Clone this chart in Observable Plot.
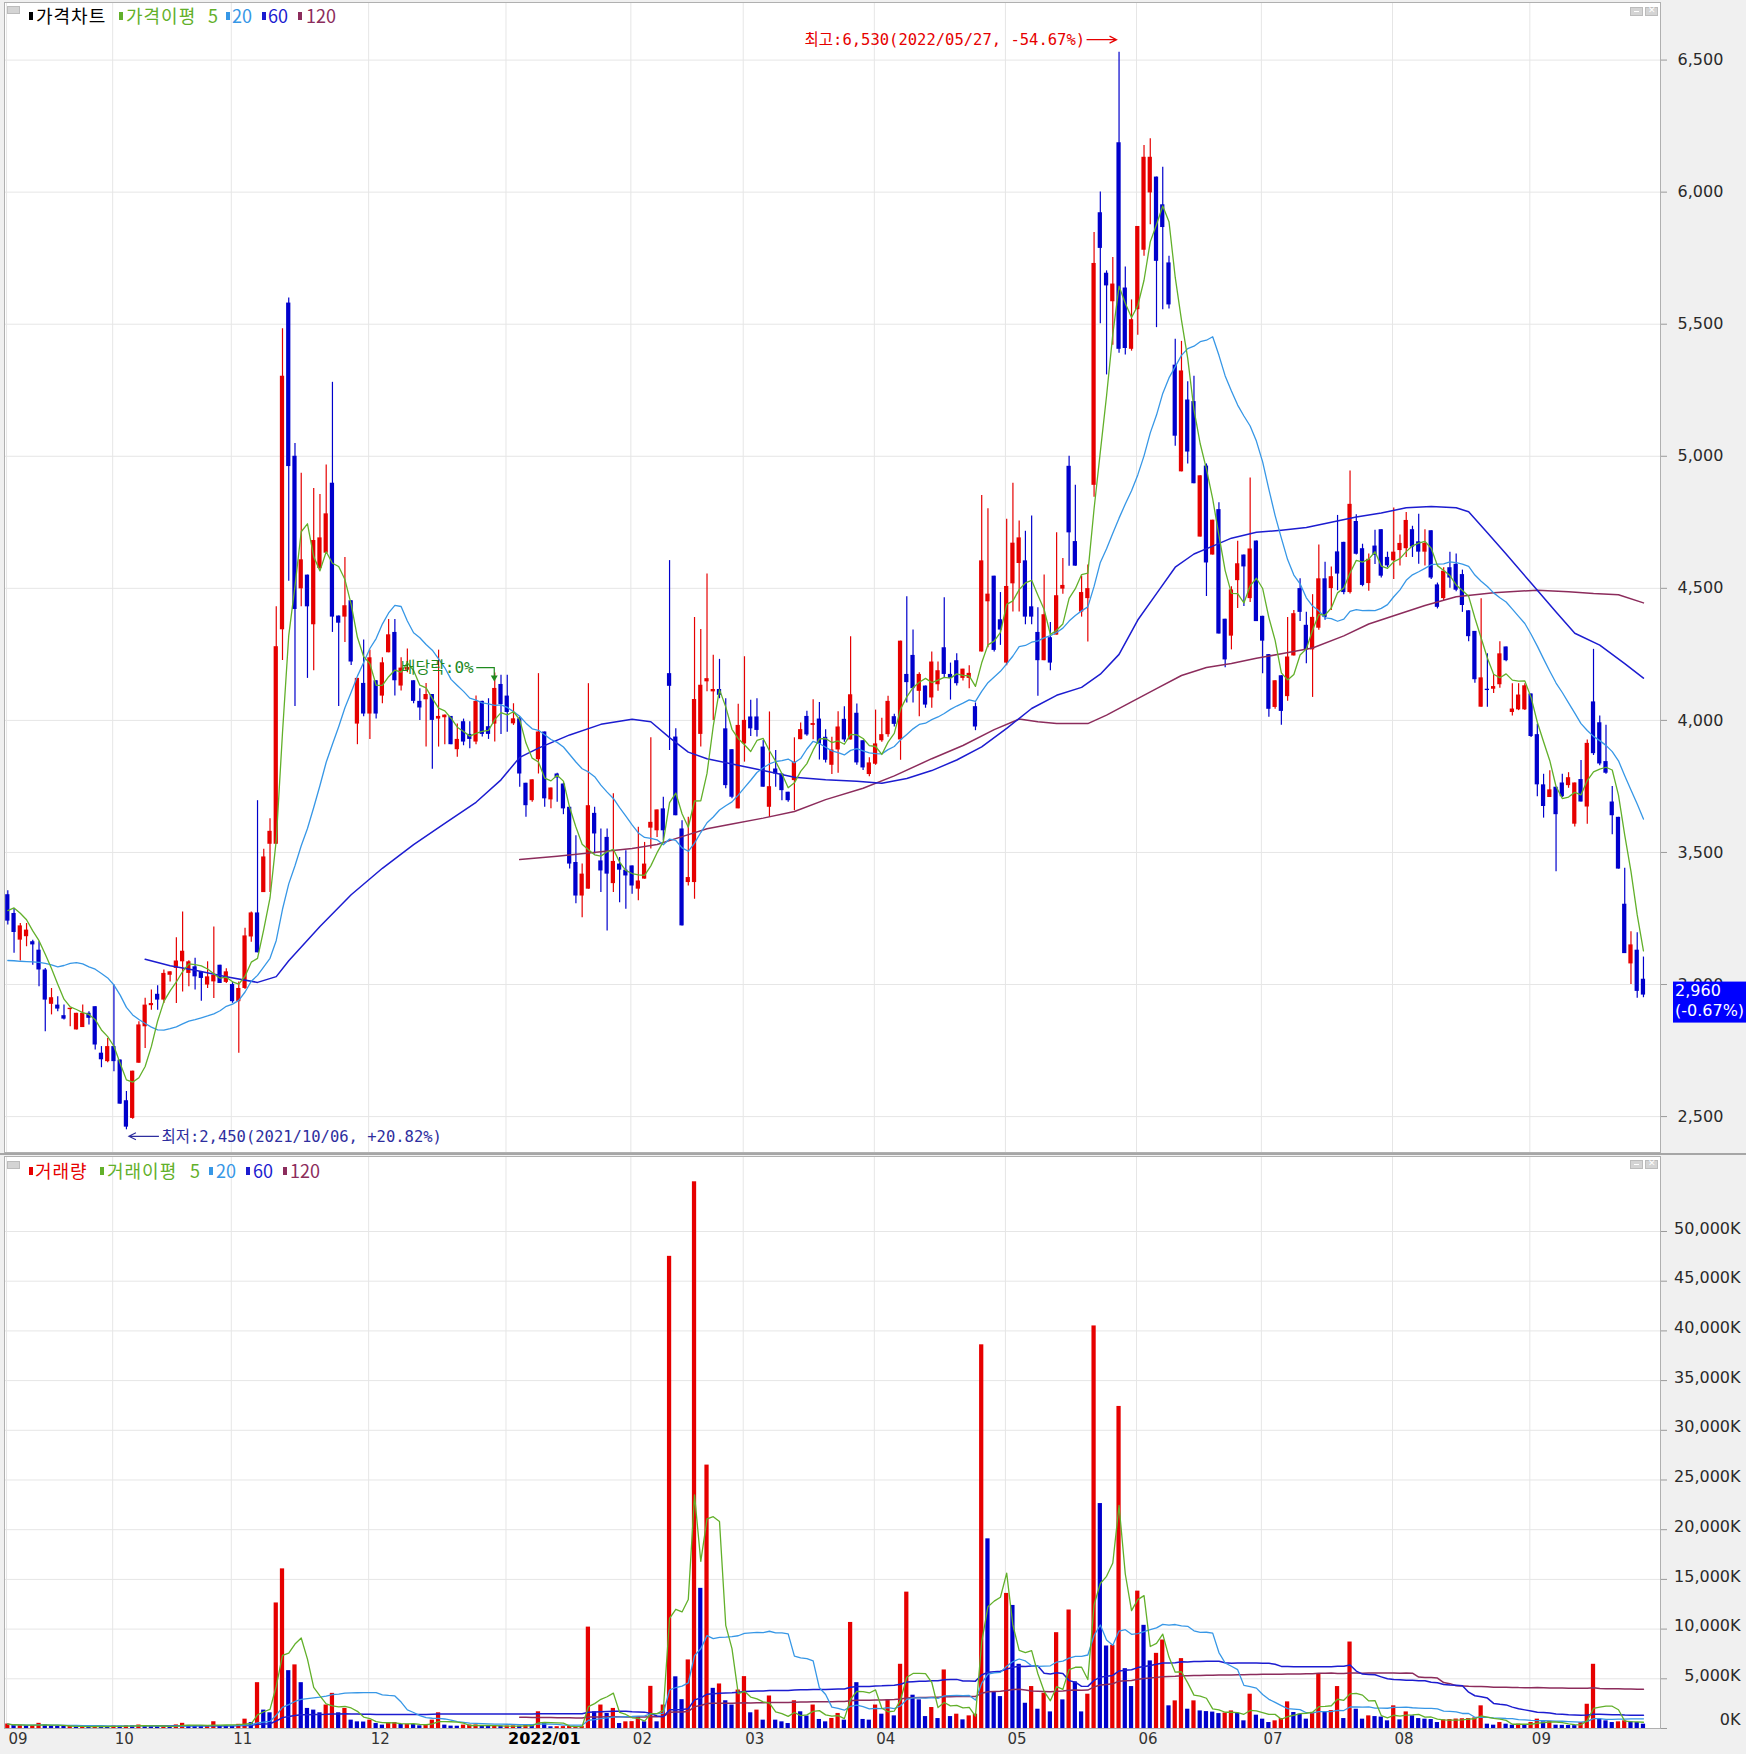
<!DOCTYPE html>
<html lang="ko"><head><meta charset="utf-8"><title>가격차트</title>
<script src="https://cdn.jsdelivr.net/npm/d3@7"></script>
<script src="https://cdn.jsdelivr.net/npm/@observablehq/plot@0.6"></script>
<style>
html,body{margin:0;padding:0;background:#f0f0f0}
#wrap{position:relative;width:1746px;height:1754px;overflow:hidden;background:#f0f0f0}
#wrap svg{position:absolute;left:0}
.lg{position:absolute;font-family:"Noto Sans CJK KR","Noto Sans",sans-serif;font-size:18px;line-height:18px;white-space:nowrap}
.lg.ko{letter-spacing:1px}
.mk{position:absolute;width:4px;height:8px}
.ic{position:absolute;width:13px;height:9px;background:#d4d4d4;border:1px solid #bcbcbc;box-sizing:border-box}
g[aria-label^="y-axis"] line,g[aria-label^="y-axis"] path{stroke:#9a9a9a}
</style></head>
<body><div id="wrap"></div>
<script>
// ---------------- data ----------------
const opens = [
3340,3269,3168,3181,3162,3130,3055,2925,2922,2882,
2905,2828,2837,2891,2916,2740,2708,2765,2714,2560,
2493,2702,2840,2920,2963,2941,3035,3061,3086,3042,
3067,3048,2998,3010,3073,3008,3000,2935,2985,3180,
3271,3348,3531,3531,4343,5580,5000,4498,4550,4362,
4575,4633,4898,4395,4391,4453,3986,4140,4024,4150,
4092,4256,4333,4130,4190,4150,4072,4078,4098,4005,
4010,4015,3889,3995,3947,3918,4072,3976,3986,4136,
4092,3987,4006,3762,3696,3851,3956,3699,3797,3759,
3671,3462,3335,3361,3648,3468,3557,3382,3456,3433,
3449,3361,3399,3592,3582,3665,4177,3937,3589,3386,
3386,3947,4146,4108,4117,3968,3889,3665,3911,4013,
4013,3899,3671,3816,3797,3728,3772,3927,4015,3981,
4005,3936,3830,3888,4004,3926,4027,3923,3795,3834,
3923,3946,4014,3926,4174,4246,4110,4130,4085,4135,
4275,4174,4226,4159,4159,4052,4259,4449,4546,4381,
4217,4517,4594,4604,4430,4333,4226,4313,4323,4497,
4962,4677,4410,4461,4890,5922,5693,5585,6187,5637,
5405,5555,5780,5997,6057,5952,5732,5345,4941,5213,
5207,4694,4963,4626,4798,4383,4319,4529,4626,4461,
4679,4394,4249,4049,4169,4090,4244,4499,4360,4267,
4349,4536,4499,4638,4674,4484,4753,4650,4518,4660,
4722,4617,4604,4643,4650,4722,4676,4637,4718,4513,
4461,4578,4591,4552,4415,4337,4050,4118,4118,4135,
4278,4030,4040,4040,4100,3946,3756,3708,3747,3763,
3753,3607,3776,3672,4070,3991,3844,3691,3633,3304,
3078,3130,3020];
const highs = [
3355,3288,3231,3231,3168,3162,3061,2985,2954,2922,
2910,2891,2922,2897,2916,2765,2796,2998,2714,2595,
2672,2859,2948,2979,2995,3055,3048,3177,3275,3090,
3099,3048,3086,3218,3073,3060,3010,3010,3213,3275,
3696,3512,3628,4430,5483,5599,5048,4936,4550,4878,
4855,4967,5280,4395,4617,4453,4159,4304,4266,4150,
4237,4382,4382,4237,4270,4150,4120,4140,4098,4266,
4020,4015,3986,4005,3995,4092,4072,4082,4179,4171,
4171,4063,4013,3762,3775,4177,3956,3744,3800,3762,
3671,3563,3456,4139,3671,3589,3589,3722,3481,3506,
3449,3595,3538,3934,3661,3709,4605,3968,3620,3633,
4390,4344,4554,4247,4231,4082,3889,4061,4241,4076,
4082,3924,4032,3886,3797,3728,3934,3990,4035,4078,
4068,3965,3936,4033,4052,4317,4062,3923,3859,4039,
4008,4091,4023,4300,4468,4342,4180,4130,4259,4221,
4464,4217,4252,4194,4207,4066,4851,4801,4546,4484,
4762,4898,4755,4716,4774,4426,4550,4371,4710,4613,
5000,4890,4546,4588,5847,6001,5702,5753,6530,5717,
5592,5870,6177,6202,6057,6094,5757,5443,5435,5282,
5303,4926,4971,4758,4824,4383,4506,4678,4626,4918,
4679,4394,4249,4150,4169,4390,4416,4536,4409,4476,
4664,4599,4581,4776,4674,4944,4779,4667,4630,4720,
4722,4637,4804,4702,4787,4735,4780,4722,4718,4520,
4578,4637,4630,4569,4415,4337,4461,4252,4174,4298,
4278,4139,4139,4139,4100,3985,3796,3809,3747,3796,
3802,3763,3848,3926,4269,4017,3982,3750,3633,3440,
3200,3196,3104];
const lows = [
3225,3118,3089,3143,3073,2992,2821,2885,2897,2866,
2840,2828,2837,2847,2752,2685,2704,2670,2547,2450,
2490,2702,2758,2903,2903,2928,3010,2928,2972,2992,
2979,2937,2985,2947,3004,3004,2929,2740,2981,3160,
3120,3348,3348,3531,4227,4527,4053,4430,4159,4188,
4570,4633,4333,4053,4295,4208,3908,4014,3928,4005,
4063,4256,4092,4111,4180,4063,4000,3899,3815,3899,
3908,3908,3860,3904,3893,3908,3937,3928,3918,3947,
3955,3981,3747,3633,3690,3797,3671,3665,3690,3643,
3437,3306,3253,3361,3494,3348,3203,3348,3310,3285,
3342,3317,3399,3513,3557,3544,3886,3639,3222,3373,
3323,3899,4108,4000,4082,3741,3703,3665,3842,3939,
3937,3747,3633,3747,3696,3690,3658,3927,3940,3927,
3850,3839,3795,3800,3917,3926,3830,3810,3787,3830,
3917,3936,3975,3849,4066,4066,4014,4046,4046,4110,
4159,4077,4130,4149,4120,3961,4259,4275,4259,4284,
4207,4410,4410,4362,4362,4091,4226,4188,4323,4478,
4584,4584,4391,4297,4845,5502,5308,5420,5390,5383,
5398,5458,5757,5877,5487,5555,5558,5038,4941,4971,
4896,4694,4469,4626,4327,4199,4267,4424,4431,4446,
4374,4177,4012,4042,3982,4072,4244,4374,4214,4087,
4341,4379,4416,4491,4476,4479,4626,4506,4489,4590,
4539,4578,4533,4585,4617,4617,4591,4585,4533,4422,
4454,4500,4487,4409,4298,4141,4050,4050,4102,4122,
4222,4017,4037,4037,3935,3711,3630,3708,3427,3708,
3743,3596,3691,3607,3867,3828,3796,3567,3437,3117,
3000,2948,2950];
const closes = [
3240,3197,3222,3206,3150,3055,2941,2950,2907,2869,
2910,2891,2891,2872,2771,2715,2765,2708,2547,2460,
2672,2847,2922,2928,2941,3042,3048,3089,3126,3086,
3029,3023,3029,3035,3004,3048,2935,2985,3184,3271,
3120,3483,3580,4279,5303,4961,4420,4608,4430,4681,
4691,4782,4391,4368,4434,4221,4159,4024,4237,4024,
4218,4324,4150,4198,4200,4072,4047,4098,4000,4015,
4020,3908,3928,3918,3928,4072,3947,3947,4121,4060,
4030,4006,3797,3677,3775,3956,3703,3744,3782,3665,
3456,3335,3418,3677,3570,3430,3418,3466,3433,3411,
3373,3392,3456,3614,3661,3582,4129,3639,3222,3405,
4079,4133,4158,4117,4095,3753,3709,3981,4000,3968,
3962,3747,3749,3797,3734,3696,3842,3965,3945,3988,
3910,3849,3888,3975,3926,4097,3839,3820,3839,3911,
3946,4072,3985,4300,4143,4120,4174,4058,4221,4188,
4174,4159,4139,4194,4178,3975,4604,4478,4265,4342,
4507,4671,4691,4391,4391,4226,4400,4217,4472,4511,
4710,4584,4484,4499,5730,5787,5645,5652,5405,5408,
5517,5870,6132,6132,5738,5866,5573,5076,5323,5016,
4896,4926,4596,4758,4327,4229,4494,4593,4581,4649,
4374,4300,4042,4150,4034,4240,4404,4409,4267,4390,
4536,4390,4544,4554,4484,4818,4629,4511,4610,4625,
4546,4585,4637,4670,4757,4656,4637,4670,4539,4428,
4565,4539,4493,4435,4317,4154,4161,4113,4128,4252,
4226,4043,4096,4131,3939,3756,3674,3737,3643,3711,
3783,3763,3691,3913,3874,3835,3800,3639,3437,3117,
3150,2974,2960];
// volume, thousands of shares
const volumes = [
450,300,320,280,300,520,350,260,240,200,
210,180,200,190,230,200,180,260,230,280,
270,350,250,210,200,240,210,360,520,310,
260,220,270,680,300,290,260,420,940,600,
4610,1850,1580,12630,16060,5820,6400,4610,2020,1850,
1580,2360,3535,1580,2020,840,670,650,840,500,
340,570,600,400,420,400,270,400,840,1580,
340,240,230,340,350,360,240,230,250,240,
250,260,230,340,300,1680,500,170,180,190,
200,210,220,10200,1680,2360,1515,2020,500,670,
690,1180,670,4240,670,2360,47500,5200,2900,6900,
55000,14100,26500,4040,4480,2790,2360,3870,5220,1580,
1850,840,3270,840,670,500,2790,1680,1250,2360,
910,670,1010,1515,840,10670,4610,910,840,2360,
1440,2880,1270,6460,13720,3350,2880,1200,2110,1000,
5890,1200,1440,870,1270,1440,38600,19080,3680,3210,
13590,12380,6460,2540,4220,1940,3550,1670,9640,2880,
11920,4690,1670,3450,40500,22630,8300,8370,32400,6020,
4220,13820,10380,6800,7560,8900,2280,2780,7030,1940,
2780,1770,1700,1650,1500,1560,1770,1540,770,3450,
1340,940,600,770,1000,2680,1610,1440,940,1540,
5460,1700,1800,4220,1000,8700,1940,940,1270,1200,
1150,770,2280,870,1670,1270,1000,940,900,600,
870,900,950,980,1000,1070,2280,435,335,600,
435,335,435,335,600,940,670,720,335,320,
300,290,600,2440,6460,940,770,600,670,770,
670,600,435];
const ma5Head = [3280,3290,3270,3245];
const ma20Head = [3091,3090,3088,3087,3086,3084,3080,3074,3067,3072,3080,3083,3078,3067,3058,3042,3025,2998,2960];
const ma60Idx = [22,26,30,35,40,43,45,50,55,60,65,70,75,79,82,85,90,95,100,103,106,109,112,116,121,126,131,136,140,144,148,152,156,160,164,168,172,175,178,181,184,187,190,193,196,200,204,208,212,216,220,224,228,232,234,237,240,244,248,251,255,259,262];
const ma60Val = [3096,3071,3054,3029,3008,3030,3090,3220,3340,3440,3530,3610,3690,3775,3860,3895,3945,3985,4004,3995,3935,3880,3855,3835,3810,3785,3775,3770,3762,3780,3810,3850,3900,3970,4045,4095,4125,4175,4250,4380,4480,4580,4630,4660,4690,4712,4720,4730,4750,4770,4785,4805,4810,4805,4790,4710,4630,4520,4410,4330,4285,4215,4160];
const ma120Idx = [82,88,95,100,104,108,112,116,121,126,131,137,142,148,153,158,162,165,168,173,176,180,184,188,192,196,200,204,209,214,218,222,227,232,238,245,250,254,258,262];
const ma120Val = [3473,3486,3503,3515,3530,3560,3590,3608,3630,3655,3700,3743,3790,3855,3905,3965,4005,3995,3988,3988,4020,4070,4120,4170,4200,4215,4235,4252,4274,4320,4365,4396,4435,4468,4483,4493,4487,4480,4476,4445];
const monthStarts = [0,17,36,58,80,100,118,139,160,181,201,222,244];
const monthLabels = ["09","10","11","12","2022/01","02","03","04","05","06","07","08","09"];
const priceTicks = [2500,3000,3500,4000,4500,5000,5500,6000,6500];
const volTicks = [0,5000,10000,15000,20000,25000,30000,35000,40000,45000,50000];
const peak = {index:178, value:6530, date:"2022/05/27", pct:"-54.67%"};
const trough = {index:19, value:2450, date:"2021/10/06", pct:"+20.82%"};
const exDiv = {index:78, text:"배당락:0%"};
const last = {value:2960, pct:"-0.67%"};

// ---------------- styling ----------------
const RED="#e60000", BLUE="#0000cc", GREEN="#62b02a", LBLUE="#3797e6", DBLUE="#1c1cd0", MAROON="#8c2c5c";
const GRID="#e6e6e6", FRAME="#b0b0b0", DIVC="#1f8a1f", LOWC="#2e2e9e";
const ANNOFONT = "DejaVu Sans Mono, Noto Sans CJK KR";
const fmt = d3.format(",");
const N = closes.length;

function rolling(arr,k,head){
  return arr.map((v,i)=>{
    if(head && i<head.length) return head[i];
    return d3.mean(arr.slice(Math.max(0,i-k+1), i+1));
  });
}
const ma5 = rolling(closes,5,ma5Head), ma20 = rolling(closes,20,ma20Head);
const vma5 = rolling(volumes,5), vma20 = rolling(volumes,20), vma60 = rolling(volumes,60), vma120 = rolling(volumes,120);

const days = d3.range(N).map(i=>{
  const o=opens[i], c=closes[i], lo=Math.min(o,c), hi=Math.max(o,c);
  return {i,o,c,h:Math.max(highs[i],hi),l:Math.min(lows[i],lo),b0:lo,b1:Math.max(hi,lo+5),up:c>=o,
    v:volumes[i], vup: i===0 ? true : volumes[i]>volumes[i-1],
    ma5:ma5[i], ma20:ma20[i], vma5:vma5[i], vma20:vma20[i], vma60:vma60[i], vma120:vma120[i]};
});
const ma60pts = ma60Idx.map((x,k)=>({i:x,v:ma60Val[k]}));
const ma120pts = ma120Idx.map((x,k)=>({i:x,v:ma120Val[k]}));
const months = monthStarts.map((s,k)=>({s,label:monthLabels[k],bold:monthLabels[k].includes("/")}));

const X = {domain:[-0.53,264.73], axis:null};
const baseStyle = {background:"transparent", fontFamily:"DejaVu Sans", fontSize:"16px", color:"#2a2a2a", overflow:"visible"};
const HW = 0.34;

const price = Plot.plot({
  width:1746, height:1154, marginLeft:4, marginRight:86, marginTop:2, marginBottom:2,
  style:baseStyle,
  x:X,
  y:{domain:[2364,6718], axis:"right", ticks:priceTicks, tickFormat:fmt, tickSize:6, tickPadding:11, label:null},
  marks:[
    Plot.frame({fill:"white", stroke:"none"}),
    Plot.ruleY(priceTicks,{stroke:GRID}),
    Plot.ruleX(months,{x:d=>d.s-0.2, stroke:GRID}),
    Plot.ruleX(days,{x:"i", y1:"l", y2:"h", stroke:d=>d.up?RED:BLUE, strokeWidth:1.2}),
    Plot.rect(days,{x1:d=>d.i-HW, x2:d=>d.i+HW, y1:"b0", y2:"b1", fill:d=>d.up?RED:BLUE}),
    Plot.line(ma120pts,{x:"i", y:"v", stroke:MAROON, strokeWidth:1.5}),
    Plot.line(ma60pts,{x:"i", y:"v", stroke:DBLUE, strokeWidth:1.5}),
    Plot.line(days,{x:"i", y:"ma20", stroke:LBLUE, strokeWidth:1.3}),
    Plot.line(days,{x:"i", y:"ma5", stroke:GREEN, strokeWidth:1.3}),
    Plot.frame({stroke:FRAME}),
    Plot.text([peak],{x:"index", y:"value", text:d=>`최고:${fmt(d.value)}(${d.date}, ${d.pct})`, textAnchor:"end", dx:-34, dy:-12, fill:RED, fontSize:15.5, fontFamily:ANNOFONT}),
    Plot.text([trough],{x:"index", y:"value", text:d=>`최저:${fmt(d.value)}(${d.date}, ${d.pct})`, textAnchor:"start", dx:35, dy:7, fill:LOWC, fontSize:15.5, fontFamily:ANNOFONT}),
    Plot.text([exDiv],{x:"index", y:d=>highs[d.index], text:"text", textAnchor:"end", dx:-21, dy:-5, fill:DIVC, fontSize:16, fontFamily:ANNOFONT})
  ]
});

const vol = Plot.plot({
  width:1746, height:600, marginLeft:4, marginRight:86, marginTop:2, marginBottom:26,
  style:baseStyle,
  x:X,
  y:{domain:[0,57545], axis:"right", ticks:volTicks, tickFormat:()=>"", tickSize:6, tickPadding:8, label:null},
  marks:[
    Plot.frame({fill:"white", stroke:"none"}),
    Plot.ruleY(volTicks,{stroke:GRID}),
    Plot.ruleX(months,{x:d=>d.s-0.2, stroke:GRID}),
    Plot.rect(days,{x1:d=>d.i-HW, x2:d=>d.i+HW, y1:d=>0, y2:"v", fill:d=>d.vup?RED:BLUE}),
    Plot.line(days,{x:"i", y:"vma120", filter:d=>d.i>=82, stroke:MAROON, strokeWidth:1.5}),
    Plot.line(days,{x:"i", y:"vma60", filter:d=>d.i>=22, stroke:DBLUE, strokeWidth:1.5}),
    Plot.line(days,{x:"i", y:"vma20", stroke:LBLUE, strokeWidth:1.3}),
    Plot.line(days,{x:"i", y:"vma5", stroke:GREEN, strokeWidth:1.3}),
    Plot.frame({stroke:FRAME}),
    Plot.text(volTicks,{filter:d=>d>0, y:d=>d, text:d=>fmt(d)+"K", frameAnchor:"right", textAnchor:"end", dx:80, dy:-3, fill:"#2a2a2a"}),
    Plot.text(volTicks,{filter:d=>d===0, y:d=>d, text:d=>fmt(d)+"K", frameAnchor:"right", textAnchor:"end", dx:80, dy:-9, fill:"#2a2a2a"}),
    Plot.text(months,{filter:d=>!d.bold, x:d=>d.s-0.2, frameAnchor:"bottom", text:"label", textAnchor:"start", dx:2, dy:15, fill:"#333", fontSize:15}),
    Plot.text(months,{filter:d=>d.bold, x:d=>d.s-0.2, frameAnchor:"bottom", text:"label", textAnchor:"start", dx:2, dy:15, fill:"#000", fontSize:16, fontWeight:"bold"})
  ]
});

const wrap = document.getElementById("wrap");
price.style.top = "0px"; vol.style.top = "1154px";
wrap.appendChild(price); wrap.appendChild(vol);

// annotation arrows, ex-dividend bracket and last-price box, positioned with the chart's own scales
const sx = price.scale("x"), sy = price.scale("y");
const sp = d3.select(price);
function arrow(x1, x2, y, color){
  const dir = Math.sign(x2 - x1);
  sp.append("path").attr("d",`M${x1},${y}H${x2}M${x2-dir*7},${y-3.5}L${x2},${y}L${x2-dir*7},${y+3.5}`)
    .attr("fill","none").attr("stroke",color).attr("stroke-width",1.2);
}
const xp = sx.apply(peak.index), yp = sy.apply(peak.value) - 12;
arrow(xp-32, xp-2, yp, RED);
const xt = sx.apply(trough.index), yt = sy.apply(trough.value) + 7;
arrow(xt+33, xt+3, yt, LOWC);
const xd = sx.apply(exDiv.index), yd = sy.apply(highs[exDiv.index]) - 5;
sp.append("path").attr("d",`M${xd-18},${yd}H${xd}V${yd+9}`).attr("fill","none").attr("stroke",DIVC).attr("stroke-width",1.2);
sp.append("path").attr("d",`M${xd-3.5},${yd+8}L${xd+3.5},${yd+8}L${xd},${yd+14}Z`).attr("fill",DIVC);
const yl = sy.apply(last.value);
const bx = sx.apply(264.73) + 13;
sp.append("rect").attr("x",bx).attr("y",yl-13).attr("width",80).attr("height",41).attr("fill","#0000ff");
[[fmt(last.value), yl-3],[`(${last.pct})`, yl+17]].forEach(([t,y])=>{
  sp.append("text").attr("x",bx+2).attr("y",y).attr("text-anchor","start").attr("dominant-baseline","middle")
    .attr("fill","white").attr("font-size",16).attr("font-family","DejaVu Sans").text(t);
});

// panel separator
const sep = document.createElement("div");
sep.style.cssText = "position:absolute;left:0;top:1153px;width:1746px;height:2px;background:#a6a6a6";
wrap.appendChild(sep);

// legends
function legend(items, top){
  items.forEach(it=>{
    if(it.mk!==undefined){
      const m=document.createElement("div"); m.className="mk";
      m.style.left=it.mk+"px"; m.style.top=(top+6)+"px"; m.style.background=it.color; wrap.appendChild(m);
    }
    const s=document.createElement("div"); s.className="lg"+(/[가-힣]/.test(it.text)?" ko":"");
    s.style.left=it.x+"px"; s.style.top=top+"px"; s.style.color=it.color; s.textContent=it.text; wrap.appendChild(s);
  });
  const ic=document.createElement("div"); ic.className="ic"; ic.style.left="7px"; ic.style.top=(top)+"px"; ic.style.height="8px"; wrap.appendChild(ic);
}
legend([
  {text:"가격차트",color:"#000",x:36,mk:29},
  {text:"가격이평",color:GREEN,x:126,mk:119},
  {text:"5",color:GREEN,x:208},
  {text:"20",color:LBLUE,x:232,mk:226},
  {text:"60",color:DBLUE,x:268,mk:262},
  {text:"120",color:MAROON,x:306,mk:298}
], 6);
legend([
  {text:"거래량",color:RED,x:35,mk:29},
  {text:"거래이평",color:GREEN,x:107,mk:100},
  {text:"5",color:GREEN,x:190},
  {text:"20",color:LBLUE,x:216,mk:209},
  {text:"60",color:DBLUE,x:253,mk:246},
  {text:"120",color:MAROON,x:290,mk:283}
], 1161);
// window icons (top right of each panel)
[[7],[1160]].forEach(([t])=>{
  [1630,1645].forEach((l,k)=>{
    const ic=document.createElement("div"); ic.className="ic"; ic.style.left=l+"px"; ic.style.top=t+"px";
    ic.innerHTML = k===0 ? '<div style="position:absolute;left:3px;top:3px;width:5px;height:1px;background:#fff"></div>'
                         : '<div style="position:absolute;left:2px;top:-3px;color:#fff;font:9px DejaVu Sans">✕</div>';
    wrap.appendChild(ic);
  });
});
</script></body></html>
